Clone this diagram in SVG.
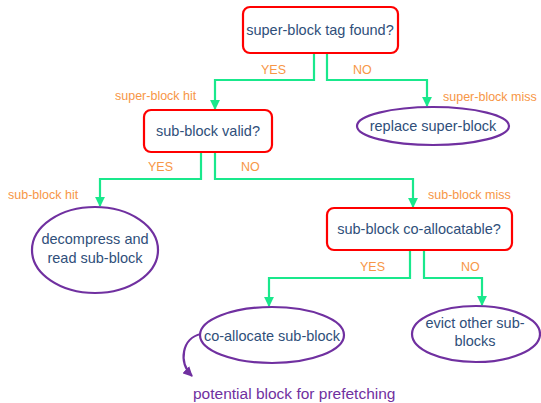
<svg xmlns="http://www.w3.org/2000/svg" width="541" height="403" viewBox="0 0 541 403">
<style>
.box{fill:#fff;stroke:#ff0000;stroke-width:2.2}
.ell{fill:#fff;stroke:#7030a0;stroke-width:2.2}
.t{font-family:"Liberation Sans",Arial,sans-serif;font-size:14.5px;fill:#2f4f7a;text-anchor:middle}
.lb{font-family:"Liberation Sans",Arial,sans-serif;font-size:12.5px;fill:#f79646}
.c{fill:none;stroke:#19e88c;stroke-width:2.2}
</style>
<defs>
<marker id="ag" viewBox="0 0 10 10" refX="9" refY="5" markerWidth="4.5" markerHeight="4.5" orient="auto"><path d="M0,0 L10,5 L0,10 Z" fill="#19e88c"/></marker>
<marker id="ap" viewBox="0 0 10 10" refX="9" refY="5" markerWidth="4.5" markerHeight="4.5" orient="auto"><path d="M0,0 L10,5 L0,10 Z" fill="#7030a0"/></marker>
</defs>
<rect width="541" height="403" fill="#fff"/>
<g id="connectors">
<path class="c" d="M314,53 V80 H215 V109" marker-end="url(#ag)"/>
<path class="c" d="M327,53 V80 H427 V106" marker-end="url(#ag)"/>
<path class="c" d="M201,152 V179 H100 V206" marker-end="url(#ag)"/>
<path class="c" d="M215,152 V179 H413 V207" marker-end="url(#ag)"/>
<path class="c" d="M410,250 V278 H269 V306" marker-end="url(#ag)"/>
<path class="c" d="M424,250 V278 H482 V305" marker-end="url(#ag)"/>
<path d="M201,334 C182,338 178,362 192,376" fill="none" stroke="#7030a0" stroke-width="2.2" marker-end="url(#ap)"/>
</g>
<g id="labels">
<text class="lb" x="261" y="74">YES</text>
<text class="lb" x="353" y="74">NO</text>
<text class="lb" x="443" y="101">super-block miss</text>
<text class="lb" x="115" y="100">super-block hit</text>
<text class="lb" x="148" y="171">YES</text>
<text class="lb" x="241" y="171">NO</text>
<text class="lb" x="8" y="199">sub-block hit</text>
<text class="lb" x="428" y="199">sub-block miss</text>
<text class="lb" x="360" y="271">YES</text>
<text class="lb" x="461" y="271">NO</text>
</g>
<g id="n1"><rect class="box" x="243" y="7" width="155" height="46" rx="7"/><text class="t" x="320" y="35">super-block tag found?</text></g>
<g id="n2"><rect class="box" x="144" y="110" width="128" height="42" rx="7"/><text class="t" x="208" y="136">sub-block valid?</text></g>
<g id="n3"><ellipse class="ell" cx="433" cy="126" rx="76" ry="19"/><text class="t" x="433" y="131">replace super-block</text></g>
<g id="n4"><rect class="box" x="327" y="208" width="185" height="42" rx="7"/><text class="t" x="419" y="234">sub-block co-allocatable?</text></g>
<g id="n5"><ellipse class="ell" cx="95" cy="250" rx="63" ry="43"/><text class="t" x="95" y="244">decompress and</text><text class="t" x="95" y="263">read sub-block</text></g>
<g id="n6"><ellipse class="ell" cx="272" cy="335" rx="72" ry="28"/><text class="t" x="272" y="341">co-allocate sub-block</text></g>
<g id="n7"><ellipse class="ell" cx="476" cy="334" rx="64" ry="28"/><text class="t" x="475" y="328">evict other sub-</text><text class="t" x="475" y="346">blocks</text></g>
<g id="n8"><text x="193" y="399" font-family="Liberation Sans,Arial,sans-serif" font-size="15.5" fill="#7030a0">potential block for prefetching</text></g>
</svg>
